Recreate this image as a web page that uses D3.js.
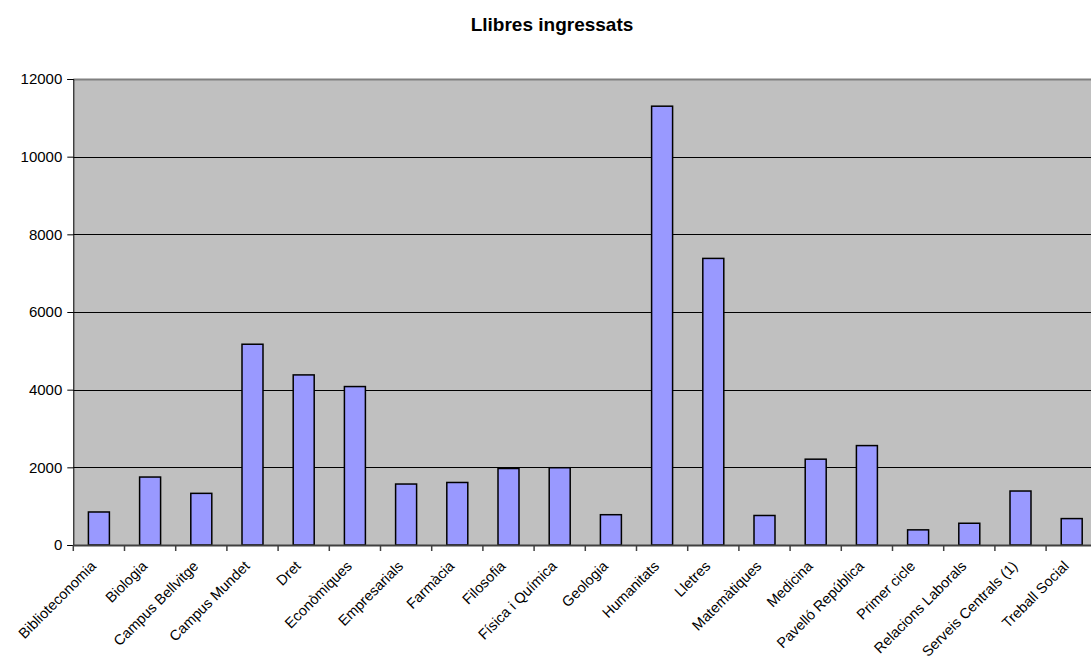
<!DOCTYPE html>
<html><head><meta charset="utf-8">
<script src="https://cdn.jsdelivr.net/npm/d3@7"></script>
<style>body{margin:0;background:#fff;}svg{display:block;font-family:"Liberation Sans",Arial,sans-serif;}</style>
</head><body>
<script>
const categories = ["Biblioteconomia","Biologia","Campus Bellvitge","Campus Mundet","Dret","Econòmiques","Empresarials","Farmàcia","Filosofia","Física i Química","Geologia","Humanitats","Lletres","Matemàtiques","Medicina","Pavelló República","Primer cicle","Relacions Laborals","Serveis Centrals (1)","Treball Social"];
const values = [850,1750,1330,5170,4380,4080,1570,1610,1970,1990,780,11300,7380,760,2210,2560,390,560,1390,680];
const yTicks = [0,2000,4000,6000,8000,10000,12000];
const title = "Llibres ingressats";

const W = 1091, H = 664;
const L = 73.3, R = 1097.3, T = 79, B = 545;
const svg = d3.select("body").append("svg").attr("width", W).attr("height", H);

const x = d3.scaleBand().domain(categories).range([L, R]).paddingInner(0).paddingOuter(0);
const y = d3.scaleLinear().domain([0, 12000]).range([B, T]);

svg.append("rect").attr("x", L).attr("y", T).attr("width", R - L).attr("height", B - T).attr("fill", "#C0C0C0");

// gridlines
svg.append("g").selectAll("line").data(yTicks.filter(d => d > 0 && d < 12000)).join("line")
  .attr("x1", L).attr("x2", R).attr("y1", d => Math.round(y(d)) + 0.5).attr("y2", d => Math.round(y(d)) + 0.5)
  .attr("stroke", "#000").attr("stroke-width", 1);
// top border
svg.append("line").attr("x1", L).attr("x2", R).attr("y1", T + 0.5).attr("y2", T + 0.5).attr("stroke", "#808080").attr("stroke-width", 2);

// bars
const bw = x.bandwidth() * 0.41;
svg.append("g").selectAll("rect").data(values).join("rect")
  .attr("x", (d, i) => x(categories[i]) + x.bandwidth() / 2 - bw / 2)
  .attr("y", d => y(d))
  .attr("width", bw)
  .attr("height", d => B - y(d))
  .attr("fill", "#9999FF").attr("stroke", "#000").attr("stroke-width", 1.5);

// y axis
const ya = svg.append("g").attr("transform", `translate(${L},0)`)
  .call(d3.axisLeft(y).tickValues(yTicks).tickSize(6).tickPadding(5).tickFormat(d3.format("d")));
ya.select(".domain").attr("stroke", "#000");
ya.selectAll(".tick line").attr("stroke", "#000");
ya.selectAll("text").attr("font-size", 15).attr("fill", "#000").attr("font-family", "Liberation Sans, Arial, sans-serif");

// x axis
const xa = svg.append("g").attr("transform", `translate(0,${B})`)
  .call(d3.axisBottom(x).tickSize(0).tickFormat(""));
xa.select(".domain").attr("stroke", "#404040").attr("stroke-width", 2);
xa.selectAll(".tick").remove();
const tickPos = d3.range(categories.length + 1).map(i => L + i * x.bandwidth());
svg.append("g").selectAll("line").data(tickPos).join("line")
  .attr("x1", d => d).attr("x2", d => d).attr("y1", B).attr("y2", B + 6)
  .attr("stroke", "#404040").attr("stroke-width", 1.5);

svg.append("g").selectAll("text").data(categories).join("text")
  .attr("transform", d => `translate(${x(d) + x.bandwidth() / 2 - 2},${B + 22}) rotate(-45)`)
  .attr("text-anchor", "end").attr("font-size", 14.5).attr("fill", "#000")
  .text(d => d);

svg.append("text").attr("x", 552).attr("y", 31).attr("text-anchor", "middle")
  .attr("font-size", 19).attr("font-weight", "bold").text(title);
</script>
</body></html>
